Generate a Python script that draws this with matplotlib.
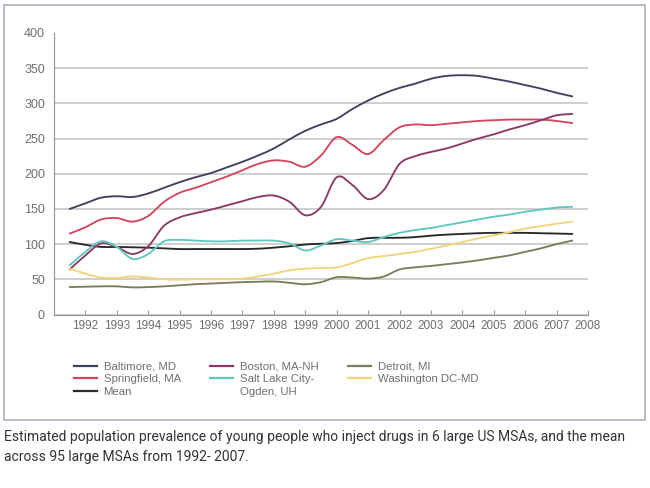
# Young PWID prevalence in 6 large US MSAs + mean across 95 MSAs

import numpy as np
import matplotlib
matplotlib.use("Agg")
import matplotlib.pyplot as plt
from matplotlib import patches, path
from matplotlib.lines import Line2D

# sample positions (half-year steps, 1991.5 .. 2007.5)
years = [1991.5 + 0.5 * i for i in range(33)]

baltimore = [150, 158, 166, 168, 167, 172, 180, 188, 195, 201, 209, 217, 226, 236,
             249, 261, 270, 278, 292, 304, 314, 322, 328, 335, 339, 340, 339, 335,
             331, 326, 321, 315, 310]
springfield = [115, 124, 135, 137, 132, 140, 160, 173, 180, 188, 196, 205, 214, 219,
               217, 210, 226, 252, 241, 228, 248, 266, 270, 269, 271, 273, 275, 276,
               277, 277, 277, 275, 272]
boston = [64, 84, 101, 96, 86, 97, 126, 138, 144, 149, 155, 161, 167, 169,
          160, 141, 153, 195, 184, 164, 177, 214, 225, 231, 236, 243, 250, 256,
          263, 269, 276, 283, 285]
salt_lake = [70, 89, 104, 96, 79, 86, 104, 106, 105, 104, 104, 105, 105, 105,
             101, 91, 98, 107, 105, 103, 110, 116, 120, 123, 127, 131, 135, 139,
             142, 146, 149, 152, 153]
mean = [103, 99, 96, 96, 95.5, 95, 94, 93, 93, 93, 93, 93, 93.5, 95,
        97, 99.5, 100.5, 101.5, 104.5, 108.5, 109, 109, 110, 112, 113.5, 114.5, 115.5, 116,
        116, 116, 115.5, 115, 114.5]
washington = [65, 58, 52.5, 52, 54, 52.5, 50, 49.5, 50, 50, 50, 51, 54, 58,
              63, 65, 66, 67, 73, 80, 83, 86, 89, 93.5, 98, 103, 108, 112.5,
              117, 122, 125.5, 129, 132]
detroit = [39, 39.5, 40, 40, 38.5, 39, 40, 41.5, 43, 44, 45, 46, 46.5, 47,
           45, 43, 46, 53, 52.5, 51, 54, 64, 67, 69, 71.5, 74, 77, 80.5,
           84, 89, 94, 100, 105]

x_ticks = list(range(1992, 2009))
y_ticks = list(range(0, 401, 50))

caption = ("Estimated population prevalence of young people who inject drugs in 6 large US MSAs, and the mean\n"
           "across 95 large MSAs from 1992- 2007.")

series = [
    ("Baltimore, MD", baltimore, "#3d4260"),
    ("Springfield, MA", springfield, "#d4465e"),
    ("Mean", mean, "#2a2a2a"),
    ("Boston, MA-NH", boston, "#8b3a67"),
    ("Salt Lake City-", salt_lake, "#62c6c1"),
    ("Detroit, MI", detroit, "#7e7c5b"),
    ("Washington DC-MD", washington, "#f3d47c"),
]

GRAY_TXT = "#6f6f6f"


def smooth_line(ax, xs, ys, **kwargs):
    """Draw a smooth curve through the points with cubic bezier segments."""
    pts = np.column_stack([xs, ys]).astype(float)
    ext = np.vstack([pts[0], pts, pts[-1]])
    verts = [pts[0]]
    codes = [path.Path.MOVETO]
    for i in range(len(pts) - 1):
        p0, p1, p2, p3 = ext[i], ext[i + 1], ext[i + 2], ext[i + 3]
        verts += [p1 + (p2 - p0) / 6, p2 - (p3 - p1) / 6, p2]
        codes += [path.Path.CURVE4] * 3
    patch = patches.PathPatch(path.Path(verts, codes), fill=False, **kwargs)
    ax.add_patch(patch)
    return patch


plt.rcParams['font.family'] = ['Liberation Sans', 'DejaVu Sans']

fig = plt.figure(figsize=(6.5, 4.88), dpi=100)
ax = fig.add_axes([54 / 650, 1 - 314.5 / 488, (588 - 54) / 650, (314.5 - 33) / 488])

handles = []
for label, vals, color in series:
    smooth_line(ax, years, vals, edgecolor=color, lw=1.35, capstyle='round', zorder=3)
    handles.append(Line2D([], [], color=color, lw=1.6, label=label))

ax.set_xlim(1991, 2008)
ax.set_ylim(0, 400)
ax.set_xticks(x_ticks)
ax.set_yticks(y_ticks)
ax.tick_params(axis='x', direction='in', length=3.5, width=0.8, color="#9a9a9a",
               labelsize=8.5, labelcolor=GRAY_TXT, pad=4)
ax.tick_params(axis='y', length=0, labelsize=9, labelcolor=GRAY_TXT, pad=6.5)

ax.yaxis.grid(True, color="#c6c6c6", lw=1.2, zorder=0)
ax.get_ygridlines()[-1].set_visible(False)
ax.set_axisbelow(True)

for s in ['top', 'right']:
    ax.spines[s].set_visible(False)
for s in ['left', 'bottom']:
    ax.spines[s].set_color("#9a9a9a")
    ax.spines[s].set_linewidth(0.9)

leg = ax.legend(handles=handles, ncol=3, loc='upper left', frameon=False,
                bbox_to_anchor=(74 / 650, 1 - 361.5 / 488), bbox_transform=fig.transFigure,
                borderpad=0, borderaxespad=0, fontsize=8.2, handlelength=2.0,
                handletextpad=0.6, columnspacing=2.6, labelspacing=0.22)
for t in leg.get_texts():
    t.set_color(GRAY_TXT)

# second line of the Salt Lake label, aligned under the first
fig.canvas.draw()
bb = leg.get_texts()[4].get_window_extent()
x0, y0 = fig.transFigure.inverted().transform((bb.x0, bb.y0 - 3))
fig.text(x0, y0, "Ogden, UH", fontsize=8.2, color=GRAY_TXT, va='top', ha='left')

# outer frame
frame = patches.Rectangle((4 / 650, 1 - 420 / 488), (645 - 4) / 650, (420 - 5) / 488,
                          transform=fig.transFigure, fill=False, edgecolor="#b4aabd", lw=1.2)
fig.patches.append(frame)

fig.text(4 / 650, 1 - 430 / 488, caption, fontsize=10, family='Roboto', color="#333333",
         va='top', ha='left', linespacing=1.5)

fig.savefig("out.png", dpi=100)
